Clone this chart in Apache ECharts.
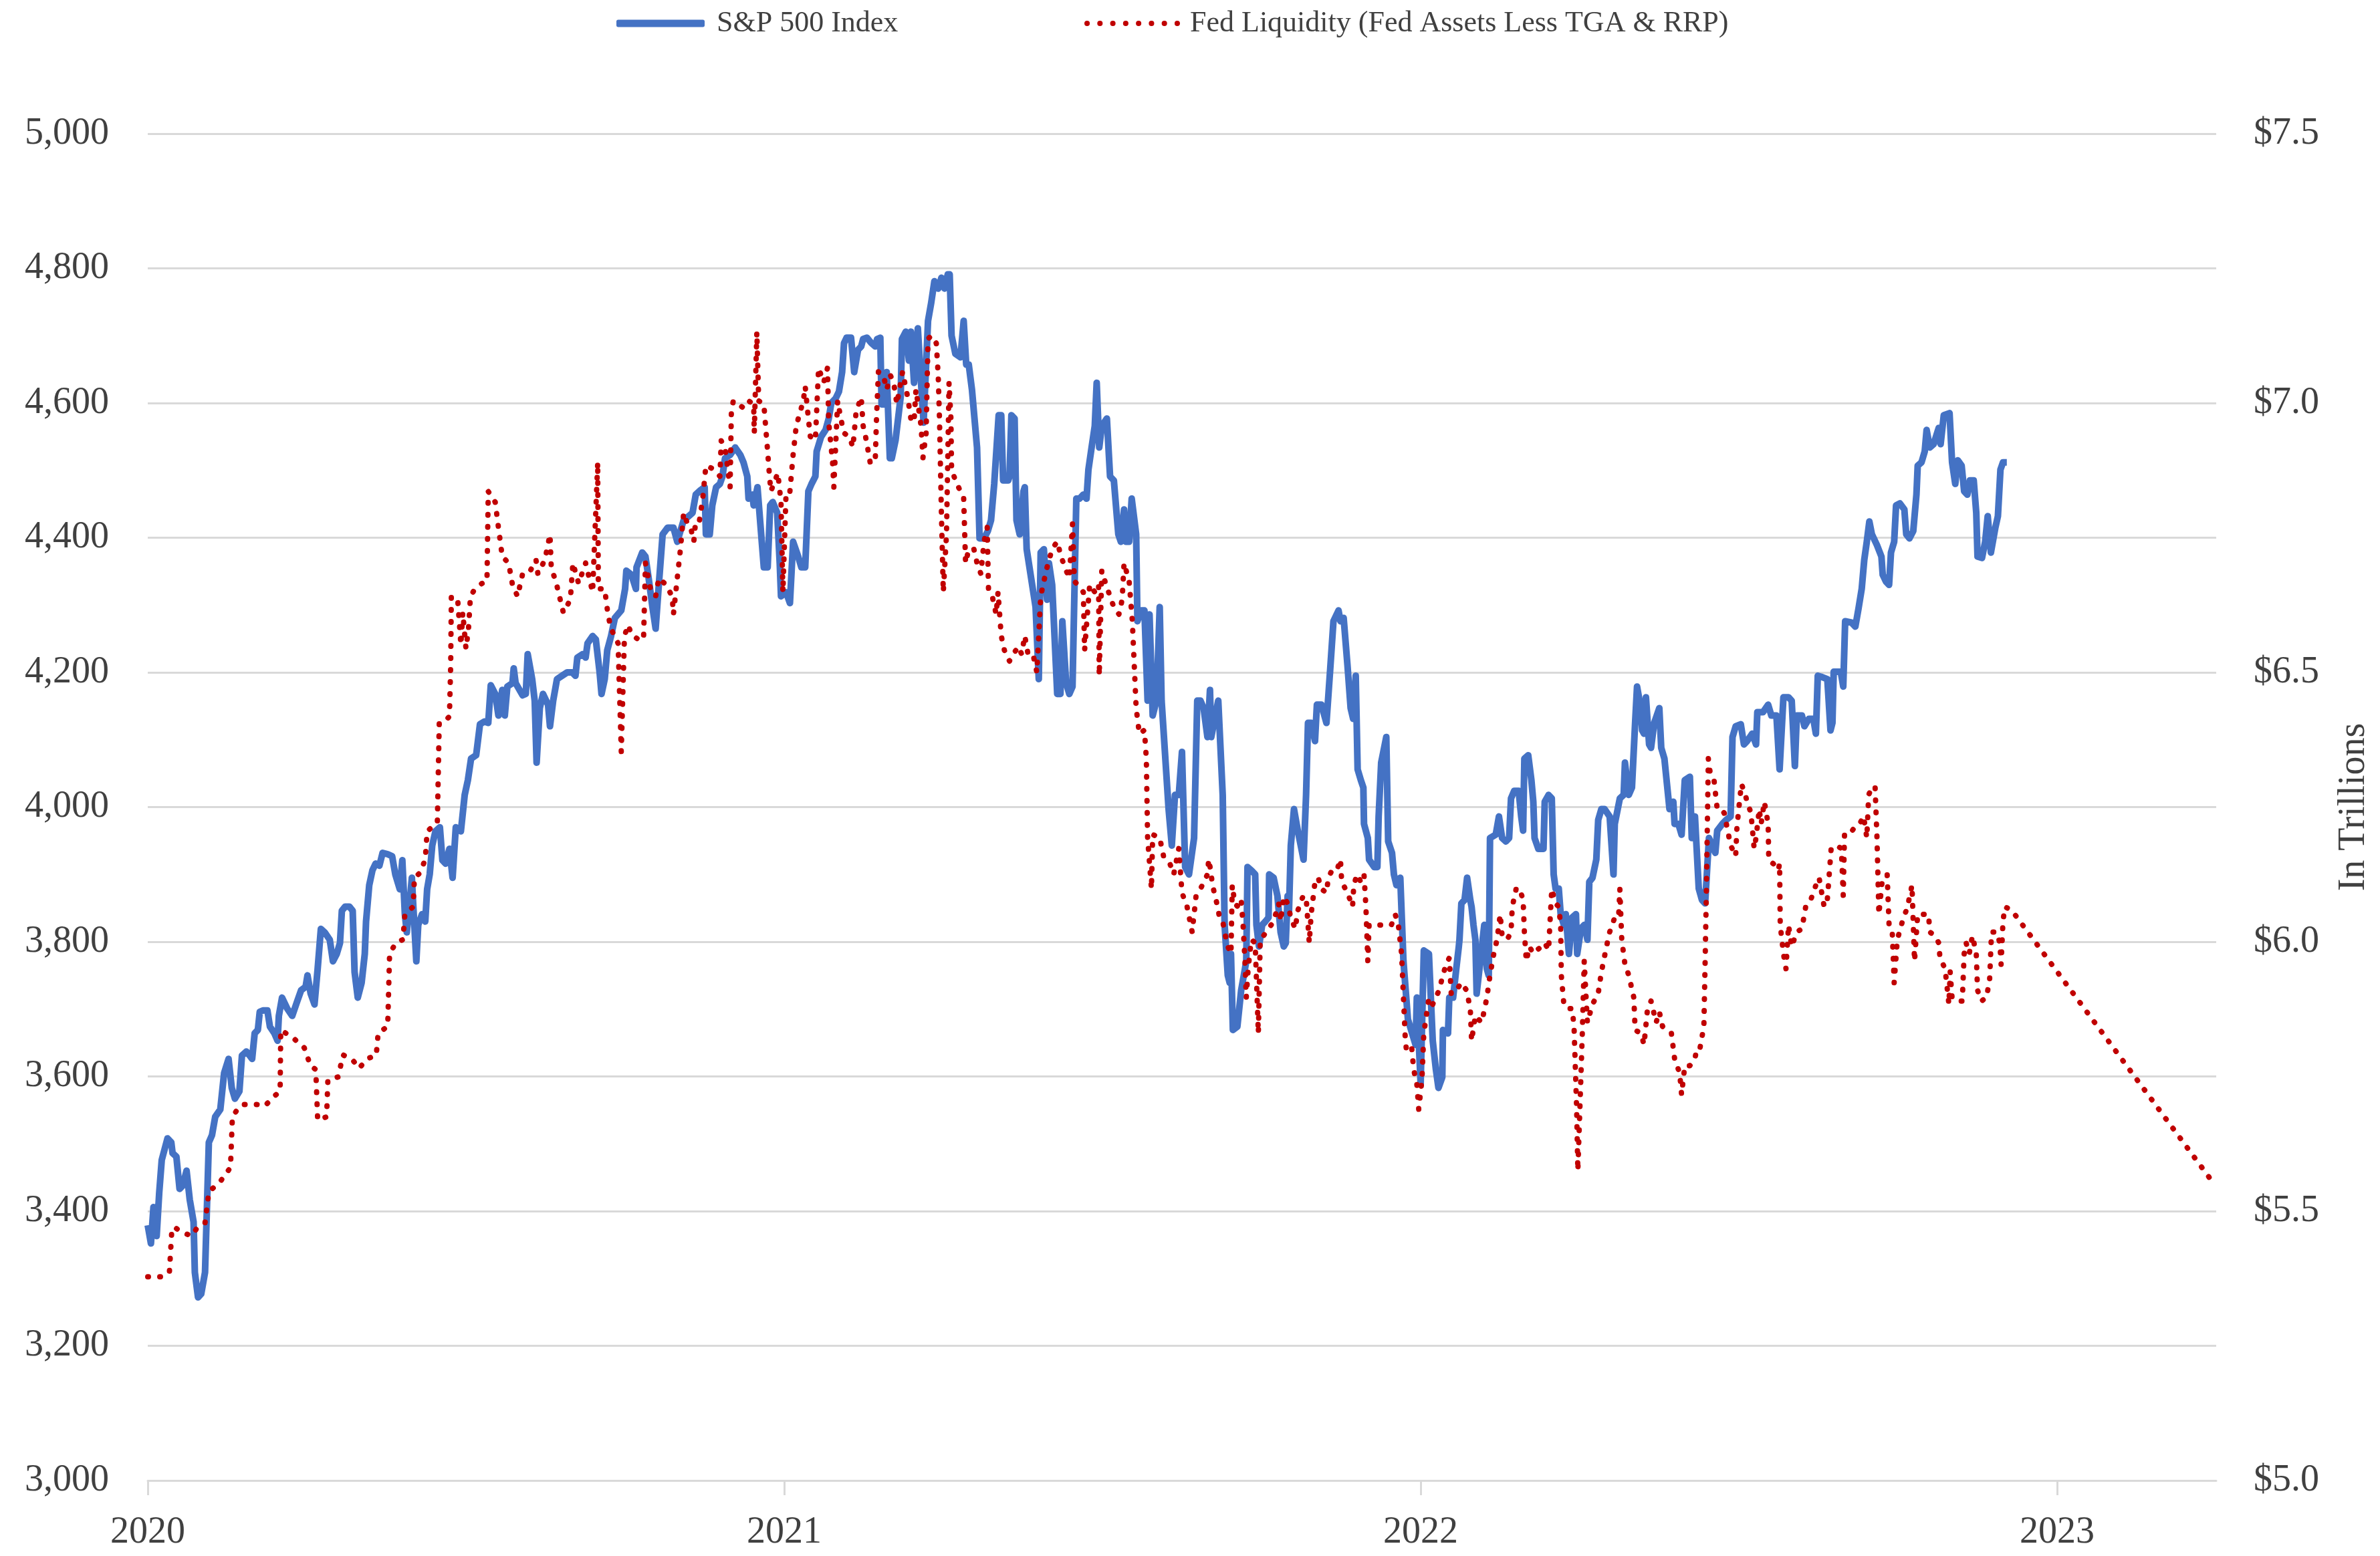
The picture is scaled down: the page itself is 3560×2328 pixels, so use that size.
<!DOCTYPE html>
<html>
<head>
<meta charset="utf-8">
<title>S&amp;P 500 vs Fed Liquidity</title>
<script src="https://cdn.jsdelivr.net/npm/echarts@6.0.0/dist/echarts.min.js"></script>
<style>
  html, body { margin: 0; padding: 0; background: #fff; }
  #chart { width: 3560px; height: 2328px; }
</style>
</head>
<body>
<div id="chart"></div>
<script>
// x values are fractional years (2020.5 = mid 2020)
const yearTicks = [2020, 2021, 2022, 2023];

// S&P 500 Index level
const spxPoints = [
  [2020.000,3379],[2020.005,3352],[2020.009,3406],[2020.014,3363],[2020.018,3427],[2020.022,3476],[2020.031,3508],[2020.037,3502],[2020.039,3486],[2020.045,3481],
  [2020.050,3433],[2020.055,3438],[2020.061,3460],[2020.066,3417],[2020.072,3384],[2020.074,3309],[2020.079,3272],[2020.084,3277],[2020.090,3309],[2020.096,3502],
  [2020.101,3513],[2020.106,3540],[2020.114,3551],[2020.120,3605],[2020.127,3626],[2020.132,3583],[2020.137,3567],[2020.144,3578],[2020.148,3631],[2020.155,3637],
  [2020.160,3631],[2020.164,3626],[2020.168,3664],[2020.173,3669],[2020.176,3696],[2020.181,3698],[2020.188,3698],[2020.192,3674],[2020.199,3664],[2020.204,3653],
  [2020.206,3690],[2020.211,3717],[2020.219,3701],[2020.227,3690],[2020.235,3712],[2020.241,3728],[2020.248,3733],[2020.251,3750],[2020.256,3723],[2020.262,3707],
  [2020.267,3760],[2020.272,3819],[2020.278,3814],[2020.286,3803],[2020.291,3771],[2020.297,3782],[2020.302,3798],[2020.305,3846],[2020.310,3852],[2020.317,3852],
  [2020.322,3846],[2020.325,3755],[2020.330,3717],[2020.336,3739],[2020.341,3782],[2020.343,3830],[2020.348,3884],[2020.353,3906],[2020.358,3916],[2020.364,3913],
  [2020.369,3932],[2020.377,3930],[2020.384,3927],[2020.389,3900],[2020.396,3878],[2020.400,3921],[2020.404,3841],[2020.407,3814],[2020.411,3852],[2020.415,3895],
  [2020.417,3857],[2020.422,3771],[2020.425,3825],[2020.431,3841],[2020.436,3830],[2020.439,3878],[2020.443,3900],[2020.447,3943],[2020.452,3964],[2020.459,3970],
  [2020.463,3921],[2020.468,3916],[2020.474,3938],[2020.479,3895],[2020.484,3970],[2020.492,3964],[2020.498,4018],[2020.503,4040],[2020.508,4072],[2020.516,4077],
  [2020.522,4123],[2020.529,4127],[2020.535,4125],[2020.539,4181],[2020.546,4168],[2020.551,4136],[2020.557,4174],[2020.561,4136],[2020.565,4179],[2020.573,4184],
  [2020.575,4206],[2020.578,4184],[2020.589,4166],[2020.594,4168],[2020.597,4227],[2020.604,4190],[2020.608,4158],[2020.611,4066],[2020.616,4147],[2020.621,4168],
  [2020.629,4152],[2020.632,4120],[2020.637,4158],[2020.643,4190],[2020.651,4195],[2020.659,4200],[2020.667,4200],[2020.672,4195],[2020.675,4222],[2020.683,4227],
  [2020.688,4222],[2020.691,4243],[2020.699,4254],[2020.704,4249],[2020.710,4200],[2020.713,4168],[2020.718,4190],[2020.722,4233],[2020.728,4254],[2020.734,4281],
  [2020.744,4292],[2020.750,4324],[2020.752,4351],[2020.760,4345],[2020.767,4324],[2020.768,4356],[2020.777,4378],[2020.782,4372],[2020.787,4340],[2020.793,4297],
  [2020.798,4265],[2020.803,4330],[2020.809,4405],[2020.817,4415],
  [2020.826,4415],[2020.832,4394],[2020.837,4410],[2020.842,4426],[2020.850,4432],[2020.856,4437],[2020.861,4464],[2020.869,4471],[2020.875,4475],[2020.877,4405],
  [2020.883,4405],[2020.887,4448],[2020.893,4475],[2020.899,4480],[2020.903,4491],[2020.907,4518],[2020.915,4523],[2020.923,4534],[2020.931,4523],[2020.936,4512],
  [2020.942,4491],[2020.944,4458],[2020.950,4464],[2020.952,4448],[2020.958,4475],[2020.963,4415],[2020.968,4356],[2020.974,4356],[2020.978,4448],[2020.982,4453],
  [2020.989,4437],[2020.993,4362],[2020.995,4313],[2021.003,4319],[2021.009,4303],[2021.014,4394],[2021.022,4372],[2021.027,4356],[2021.033,4356],[2021.038,4469],
  [2021.043,4480],[2021.049,4491],[2021.051,4528],[2021.058,4550],[2021.065,4560],[2021.070,4577],[2021.074,4600],[2021.081,4607],[2021.086,4617],[2021.091,4646],
  [2021.094,4689],[2021.098,4697],[2021.105,4697],[2021.110,4646],[2021.116,4679],[2021.121,4684],[2021.124,4695],[2021.130,4697],[2021.137,4689],[2021.143,4684],
  [2021.146,4695],[2021.151,4697],[2021.153,4598],[2021.156,4598],[2021.161,4646],[2021.166,4518],[2021.169,4518],[2021.175,4545],[2021.183,4609],[2021.185,4695],
  [2021.191,4706],[2021.196,4663],[2021.199,4706],[2021.204,4630],[2021.210,4711],[2021.215,4630],[2021.219,4571],[2021.226,4722],[2021.231,4749],[2021.236,4781],
  [2021.242,4770],[2021.247,4786],[2021.252,4770],[2021.257,4791],[2021.260,4791],[2021.263,4700],[2021.269,4673],[2021.277,4668],[2021.282,4722],[2021.286,4657],
  [2021.290,4657],[2021.295,4620],[2021.303,4534],[2021.307,4399],[2021.314,4399],[2021.320,4410],[2021.325,4426],[2021.330,4480],[2021.337,4582],[2021.341,4582],
  [2021.344,4485],[2021.352,4485],[2021.354,4491],[2021.357,4582],[2021.362,4577],[2021.365,4426],[2021.370,4405],[2021.376,4469],[2021.378,4475],[2021.381,4383],
  [2021.388,4340],[2021.395,4297],[2021.400,4190],[2021.403,4378],[2021.408,4383],[2021.413,4308],[2021.416,4362],[2021.421,4330],[2021.429,4168],[2021.434,4168],
  [2021.437,4276],[2021.443,4184],[2021.448,4168],[2021.453,4179],[2021.459,4458],[2021.464,4458],[2021.470,4464],[2021.475,4458],[2021.478,4501],[2021.483,4534],
  [2021.488,4566],[2021.491,4630],[2021.495,4534],[2021.499,4566],[2021.507,4577],[2021.512,4491],[2021.518,4485],[2021.525,4405],[2021.529,4394],[2021.534,4442],
  [2021.537,4394],[2021.542,4394],[2021.546,4458],[2021.553,4405],[2021.555,4276],[2021.561,4292],[2021.566,4292],[2021.571,4158],[2021.574,4286],[2021.579,4136],
  [2021.585,4158],[2021.590,4297],[2021.593,4158],[2021.604,3997],[2021.609,3943],[2021.614,4018],[2021.620,4018],[2021.625,4082],[2021.630,3911],[2021.636,3900],
  [2021.644,3954],[2021.649,4158],
  [2021.654,4158],[2021.659,4147],[2021.665,4104],[2021.669,4174],[2021.671,4104],[2021.682,4158],[2021.689,4018],[2021.692,3825],[2021.697,3750],[2021.700,3739],
  [2021.702,3782],[2021.705,3669],[2021.712,3674],[2021.718,3728],[2021.724,3760],[2021.726,3771],[2021.728,3911],[2021.734,3906],[2021.740,3900],[2021.742,3825],
  [2021.746,3793],[2021.751,3825],[2021.756,3830],[2021.761,3836],[2021.762,3900],[2021.769,3895],[2021.775,3868],[2021.780,3814],[2021.785,3793],[2021.788,3798],
  [2021.791,3868],[2021.793,3841],[2021.796,3943],[2021.801,3997],[2021.807,3965],[2021.809,3965],[2021.816,3922],[2021.820,4018],[2021.823,4125],[2021.828,4125],
  [2021.834,4098],[2021.837,4152],[2021.844,4152],[2021.852,4125],[2021.858,4206],[2021.863,4276],[2021.871,4292],[2021.874,4276],[2021.879,4281],[2021.885,4211],
  [2021.890,4147],[2021.894,4131],[2021.898,4195],[2021.901,4056],[2021.906,4040],[2021.910,4029],[2021.911,3975],[2021.917,3954],[2021.919,3922],[2021.927,3911],
  [2021.932,3911],[2021.934,3986],[2021.938,4066],[2021.946,4104],[2021.949,3949],[2021.955,3932],[2021.958,3900],[2021.962,3884],[2021.968,3895],[2021.973,3771],
  [2021.980,3685],[2021.985,3669],[2021.992,3647],[2021.994,3717],[2022.000,3589],[2022.005,3787],[2022.013,3782],[2022.019,3653],[2022.024,3610],[2022.028,3583],
  [2022.034,3599],[2022.035,3669],[2022.043,3664],[2022.045,3717],[2022.051,3717],[2022.056,3760],[2022.060,3793],[2022.061,3803],[2022.064,3857],[2022.069,3862],
  [2022.073,3895],[2022.078,3862],[2022.080,3852],[2022.083,3825],[2022.086,3803],[2022.088,3723],[2022.095,3782],[2022.100,3825],[2022.104,3760],[2022.107,3750],
  [2022.109,3954],[2022.118,3959],[2022.123,3986],[2022.128,3954],[2022.134,3949],[2022.139,3954],[2022.142,4013],[2022.147,4024],[2022.154,4024],[2022.158,3986],
  [2022.161,3965],[2022.163,4072],[2022.169,4077],[2022.174,4040],[2022.177,4008],[2022.179,3954],[2022.185,3938],[2022.193,3938],[2022.195,4008],[2022.201,4018],
  [2022.206,4013],[2022.209,3900],[2022.212,3879],[2022.217,3879],[2022.220,3841],[2022.225,3825],[2022.228,3841],[2022.233,3782],[2022.238,3836],[2022.244,3841],
  [2022.246,3782],[2022.252,3820],[2022.257,3825],[2022.260,3814],[2022.262,3803],[2022.265,3889],[2022.270,3895],[2022.276,3922],[2022.279,3981],[2022.284,3997],
  [2022.289,3997],[2022.297,3986],[2022.303,3900],[2022.305,3975],[2022.313,4013],[2022.319,4018],[2022.321,4066],[2022.327,4018],[2022.332,4029],[2022.337,4125],
  [2022.340,4179],[2022.346,4147],[2022.348,4114],[2022.351,4109],[2022.354,4163],[2022.359,4093],[2022.362,4088],[2022.367,4125],[2022.375,4147],[2022.378,4088],
  [2022.383,4072],[2022.391,3997],[2022.397,4008],[2022.399,3975],[2022.405,3975],[2022.410,3959],[2022.415,4040],[2022.423,4045],[2022.426,3954],[2022.431,3986],
  [2022.437,3879],[2022.442,3862],[2022.447,3857],[2022.453,3954],[2022.458,3943],[2022.463,3932],[2022.466,3965],[2022.474,3975],[2022.480,3981],
  [2022.487,3986],[2022.490,4104],[2022.495,4120],[2022.503,4123],[2022.508,4093],[2022.513,4098],[2022.521,4109],[2022.527,4093],[2022.529,4141],[2022.538,4141],
  [2022.546,4152],[2022.551,4136],[2022.559,4136],[2022.564,4056],[2022.570,4163],[2022.578,4163],[2022.583,4158],[2022.588,4061],[2022.591,4136],[2022.599,4136],
  [2022.603,4120],[2022.610,4131],[2022.617,4131],[2022.621,4109],[2022.624,4195],[2022.631,4193],[2022.639,4190],[2022.644,4114],[2022.647,4125],[2022.649,4201],
  [2022.660,4201],[2022.664,4179],[2022.667,4276],[2022.677,4274],[2022.683,4268],[2022.688,4295],[2022.693,4324],[2022.697,4367],[2022.701,4394],[2022.705,4424],
  [2022.709,4405],[2022.717,4389],[2022.724,4372],[2022.726,4345],[2022.731,4335],[2022.736,4330],[2022.739,4378],[2022.744,4394],[2022.747,4448],[2022.753,4451],
  [2022.760,4442],[2022.763,4405],[2022.768,4399],[2022.774,4410],[2022.779,4464],[2022.781,4507],[2022.787,4512],[2022.792,4528],[2022.795,4560],[2022.800,4534],
  [2022.806,4539],[2022.814,4563],[2022.817,4539],[2022.822,4582],[2022.831,4585],[2022.835,4512],[2022.840,4480],[2022.844,4515],[2022.850,4507],[2022.854,4469],
  [2022.859,4464],[2022.863,4485],[2022.869,4485],[2022.873,4437],[2022.875,4372],[2022.882,4370],[2022.887,4394],[2022.891,4432],[2022.896,4378],[2022.898,4378],
  [2022.903,4415],[2022.907,4432],[2022.911,4501],[2022.915,4512],[2022.921,4512]
];

// Fed liquidity, $ trillions
const liquidityPoints = [
  [2020.000,5.378],[2020.021,5.378],[2020.034,5.386],[2020.038,5.468],[2020.042,5.470],[2020.055,5.460],[2020.069,5.454],[2020.077,5.468],[2020.090,5.478],[2020.096,5.535],
  [2020.101,5.541],[2020.114,5.555],[2020.130,5.581],[2020.133,5.675],[2020.141,5.689],[2020.149,5.698],[2020.171,5.698],[2020.184,5.695],[2020.195,5.709],[2020.208,5.723],
  [2020.209,5.836],[2020.227,5.823],[2020.246,5.803],[2020.256,5.769],[2020.264,5.763],[2020.267,5.669],[2020.281,5.675],[2020.283,5.743],[2020.299,5.749],[2020.307,5.790],
  [2020.323,5.779],[2020.332,5.765],[2020.345,5.783],[2020.359,5.789],[2020.362,5.830],[2020.377,5.843],[2020.380,5.978],[2020.390,5.998],[2020.401,6.004],[2020.404,6.051],
  [2020.417,6.065],[2020.419,6.119],[2020.428,6.128],[2020.436,6.153],[2020.439,6.205],[2020.447,6.213],[2020.455,6.221],[2020.458,6.406],[2020.466,6.409],[2020.474,6.418],
  [2020.476,6.514],[2020.477,6.641],[2020.487,6.635],[2020.492,6.551],[2020.495,6.611],[2020.500,6.544],[2020.504,6.581],[2020.507,6.641],[2020.514,6.655],[2020.525,6.665],
  [2020.533,6.669],[2020.535,6.836],[2020.546,6.816],[2020.551,6.769],[2020.557,6.715],[2020.567,6.703],[2020.573,6.663],[2020.581,6.641],[2020.589,6.683],[2020.600,6.686],
  [2020.610,6.709],[2020.613,6.683],[2020.624,6.709],[2020.632,6.756],[2020.634,6.695],[2020.642,6.665],[2020.653,6.611],[2020.664,6.635],[2020.668,6.703],[2020.677,6.665],
  [2020.688,6.703],[2020.699,6.649],[2020.707,6.890],[2020.708,6.655],[2020.718,6.655],[2020.723,6.608],[2020.728,6.581],[2020.739,6.554],[2020.744,6.353],[2020.749,6.568],
  [2020.755,6.588],[2020.760,6.570],[2020.771,6.561],[2020.779,6.561],[2020.782,6.703],[2020.790,6.655],[2020.798,6.641],[2020.803,6.675],[2020.814,6.663],
  [2020.824,6.641],[2020.826,6.608],[2020.832,6.675],[2020.837,6.729],[2020.842,6.796],[2020.848,6.776],[2020.853,6.769],[2020.858,6.743],[2020.861,6.783],[2020.867,6.783],
  [2020.872,6.823],[2020.877,6.884],[2020.888,6.878],[2020.899,6.864],[2020.901,6.930],[2020.907,6.918],[2020.915,6.844],[2020.917,6.984],[2020.920,7.004],[2020.936,6.991],
  [2020.944,7.004],[2020.952,6.998],[2020.953,6.944],[2020.957,7.132],[2020.960,7.004],[2020.968,6.998],[2020.974,6.910],[2020.976,6.878],[2020.979,6.836],[2020.990,6.870],
  [2020.995,6.816],[2020.998,6.649],[2021.003,6.836],[2021.009,6.836],[2021.014,6.904],[2021.019,6.958],[2021.030,7.004],[2021.033,7.031],[2021.038,6.971],[2021.041,6.938],
  [2021.049,6.931],[2021.054,7.065],[2021.062,7.038],[2021.068,7.065],[2021.070,6.964],[2021.076,6.890],[2021.078,6.844],[2021.084,7.004],[2021.089,6.971],[2021.094,6.944],
  [2021.102,6.938],[2021.108,6.918],[2021.113,6.984],[2021.121,7.011],[2021.124,6.958],[2021.129,6.931],[2021.135,6.890],[2021.143,6.890],[2021.145,6.971],[2021.148,7.058],
  [2021.156,7.051],[2021.161,7.025],[2021.167,7.051],[2021.172,7.038],[2021.177,6.998],[2021.186,7.058],[2021.194,7.011],[2021.199,6.971],[2021.204,6.964],[2021.207,7.025],
  [2021.215,6.958],[2021.218,6.898],[2021.223,6.944],[2021.226,7.119],[2021.231,7.125],[2021.239,7.111],[2021.242,7.051],[2021.244,6.971],[2021.247,6.796],[2021.250,6.649],
  [2021.255,6.756],[2021.259,7.038],[2021.262,6.971],[2021.263,6.878],[2021.269,6.856],[2021.277,6.836],[2021.282,6.823],[2021.285,6.703],[2021.290,6.729],[2021.298,6.729],
  [2021.303,6.703],[2021.309,6.683],[2021.314,6.743],[2021.319,6.769],[2021.321,6.655],[2021.327,6.641],[2021.333,6.608],[2021.336,6.649],[2021.341,6.568],[2021.346,6.541],
  [2021.354,6.521],[2021.360,6.534],[2021.368,6.548],[2021.373,6.534],[2021.378,6.568],[2021.384,6.528],[2021.392,6.528],[2021.397,6.500],[2021.403,6.641],[2021.408,6.669],
  [2021.413,6.695],[2021.421,6.729],[2021.429,6.743],[2021.435,6.715],[2021.443,6.689],[2021.448,6.675],[2021.453,6.776],[2021.456,6.669],[2021.461,6.663],[2021.470,6.649],
  [2021.472,6.541],[2021.480,6.663],[2021.488,6.649],[2021.494,6.663],[2021.495,6.494],[2021.499,6.689],[2021.504,6.669],[2021.512,6.641],[2021.518,6.621],[2021.526,6.608],
  [2021.531,6.635],[2021.534,6.703],[2021.542,6.669],[2021.547,6.595],[2021.550,6.514],[2021.553,6.434],[2021.558,6.386],[2021.566,6.393],[2021.569,6.340],[2021.571,6.193],
  [2021.577,6.098],[2021.579,6.199],[2021.590,6.193],[2021.596,6.159],[2021.606,6.145],[2021.612,6.125],[2021.620,6.173],[2021.625,6.091],[2021.633,6.065],[2021.641,6.018],
  [2021.647,6.084],
  [2021.657,6.105],[2021.665,6.125],[2021.667,6.153],[2021.670,6.133],[2021.673,6.105],[2021.681,6.065],[2021.684,6.045],[2021.689,6.038],[2021.692,6.018],[2021.697,5.991],
  [2021.702,5.978],[2021.704,6.105],[2021.708,6.071],[2021.713,6.065],[2021.718,6.078],[2021.721,6.031],[2021.724,5.964],[2021.726,5.896],[2021.729,5.950],[2021.734,6.004],
  [2021.740,5.998],[2021.745,5.830],[2021.748,6.004],[2021.753,6.011],[2021.761,6.024],[2021.769,6.038],[2021.777,6.071],[2021.780,6.038],[2021.785,6.084],[2021.791,6.071],
  [2021.796,6.045],[2021.803,6.024],[2021.807,6.058],[2021.815,6.084],[2021.820,6.084],[2021.825,5.998],[2021.828,6.051],[2021.834,6.111],[2021.839,6.119],[2021.844,6.098],
  [2021.852,6.091],[2021.855,6.119],[2021.860,6.131],[2021.868,6.131],[2021.874,6.153],[2021.876,6.111],[2021.885,6.091],[2021.893,6.065],[2021.895,6.105],[2021.900,6.125],
  [2021.906,6.111],[2021.911,6.125],[2021.914,6.065],[2021.917,5.964],[2021.919,6.031],[2021.927,6.031],[2021.938,6.031],[2021.949,6.031],[2021.954,6.031],[2021.960,6.051],
  [2021.965,6.031],[2021.970,5.978],[2021.973,5.896],[2021.976,5.816],[2021.978,5.796],[2021.986,5.803],[2021.989,5.763],[2021.994,5.736],[2021.997,5.689],[2022.002,5.743],
  [2022.005,5.830],[2022.013,5.896],[2022.019,5.884],[2022.029,5.910],[2022.035,5.938],[2022.040,5.958],[2022.045,5.970],[2022.048,5.904],[2022.051,5.910],[2022.056,5.910],
  [2022.064,5.924],[2022.072,5.910],[2022.078,5.876],[2022.080,5.816],[2022.086,5.863],[2022.091,5.856],[2022.096,5.850],[2022.104,5.896],[2022.109,5.938],[2022.115,5.978],
  [2022.120,6.004],[2022.125,6.051],[2022.128,6.011],[2022.136,6.004],[2022.142,6.018],[2022.144,6.065],[2022.150,6.098],[2022.155,6.100],[2022.161,6.078],[2022.163,6.018],
  [2022.166,5.964],[2022.171,5.991],[2022.177,5.978],[2022.182,5.984],[2022.190,5.991],[2022.195,5.998],[2022.201,5.984],[2022.203,6.031],[2022.206,6.098],[2022.212,6.071],
  [2022.217,6.065],[2022.220,6.031],[2022.221,5.938],[2022.225,5.884],[2022.230,5.876],[2022.238,5.876],[2022.241,5.843],[2022.245,5.695],[2022.247,5.575],[2022.250,5.683],
  [2022.254,5.830],[2022.257,5.964],[2022.262,5.850],[2022.270,5.884],[2022.279,5.904],[2022.284,5.944],[2022.292,5.991],[2022.297,6.018],[2022.305,6.045],[2022.311,6.045],
  [2022.313,6.098],[2022.316,6.004],[2022.321,5.958],[2022.327,5.938],[2022.335,5.896],[2022.337,5.836],[2022.346,5.830],[2022.351,5.809],[2022.356,5.870],[2022.362,5.890],
  [2022.370,5.850],[2022.375,5.870],[2022.380,5.843],[2022.388,5.836],[2022.394,5.830],[2022.399,5.783],[2022.407,5.756],[2022.410,5.716],[2022.415,5.770],[2022.423,5.770],
  [2022.431,5.783],[2022.434,5.803],[2022.439,5.803],[2022.445,5.843],[2022.447,5.964],[2022.449,6.098],[2022.452,6.340],[2022.455,6.313],[2022.461,6.300],[2022.466,6.246],
  [2022.471,6.246],[2022.477,6.239],
  [2022.487,6.179],[2022.495,6.159],[2022.497,6.213],[2022.501,6.260],[2022.504,6.293],[2022.510,6.273],[2022.513,6.260],[2022.519,6.239],[2022.524,6.173],[2022.527,6.193],
  [2022.532,6.246],[2022.535,6.219],[2022.540,6.260],[2022.546,6.219],[2022.547,6.151],[2022.554,6.145],[2022.562,6.133],[2022.564,6.145],[2022.565,6.031],[2022.570,5.978],
  [2022.574,5.950],[2022.578,6.031],[2022.583,5.991],[2022.591,6.018],[2022.599,6.024],[2022.605,6.065],[2022.613,6.078],[2022.621,6.105],[2022.626,6.119],[2022.634,6.065],
  [2022.639,6.078],[2022.645,6.173],[2022.653,6.179],[2022.661,6.173],[2022.664,6.086],[2022.666,6.199],[2022.674,6.199],[2022.682,6.213],[2022.690,6.219],[2022.696,6.233],
  [2022.701,6.193],[2022.704,6.273],[2022.709,6.286],[2022.714,6.289],[2022.717,6.193],[2022.720,6.051],[2022.725,6.111],[2022.733,6.125],[2022.736,6.031],[2022.741,6.018],
  [2022.744,5.924],[2022.749,6.004],[2022.757,6.038],[2022.765,6.065],[2022.772,6.105],[2022.776,5.964],[2022.781,6.051],[2022.789,6.051],[2022.798,6.051],[2022.800,6.018],
  [2022.808,6.011],[2022.814,5.998],[2022.816,5.970],[2022.824,5.950],[2022.830,5.884],[2022.832,5.944],[2022.835,5.896],[2022.843,5.890],[2022.851,5.890],[2022.854,5.978],
  [2022.857,5.998],[2022.862,5.978],[2022.867,6.011],[2022.873,5.978],[2022.875,5.910],[2022.881,5.890],[2022.889,5.896],[2022.894,5.930],[2022.897,6.018],[2022.905,6.018],
  [2022.910,5.998],[2022.912,5.958],[2022.915,6.038],[2022.918,6.065],[2022.929,6.058],[2023.240,5.561]
];

const textColor = '#404040';
const gridColor = '#d9d9d9';
const spxColor = '#4472C4';
const liqColor = '#C00000';
const fontFamily = '"Liberation Serif", "DejaVu Serif", serif';

// eight round dots for the dotted legend key
const dotIcon = 'path://M0,4a4,4 0 1,0 8,0a4,4 0 1,0 -8,0' +
  'M19,4a4,4 0 1,0 8,0a4,4 0 1,0 -8,0M38,4a4,4 0 1,0 8,0a4,4 0 1,0 -8,0' +
  'M57,4a4,4 0 1,0 8,0a4,4 0 1,0 -8,0M76,4a4,4 0 1,0 8,0a4,4 0 1,0 -8,0' +
  'M95,4a4,4 0 1,0 8,0a4,4 0 1,0 -8,0M114,4a4,4 0 1,0 8,0a4,4 0 1,0 -8,0' +
  'M133,4a4,4 0 1,0 8,0a4,4 0 1,0 -8,0';

let chart = echarts.init(document.getElementById('chart'));

let option = {
  animation: false,
  backgroundColor: '#ffffff',
  textStyle: { fontFamily: fontFamily, color: textColor },
  legend: [
    {
      top: 8,
      left: 917,
      itemWidth: 132,
      itemHeight: 11,
      textStyle: { fontSize: 44, color: textColor, fontFamily: fontFamily, padding: [0, 0, 0, 13] },
      data: [{ name: 'S&P 500 Index', icon: 'roundRect', itemStyle: { color: spxColor, borderWidth: 0 } }]
    },
    {
      top: 8,
      left: 1617,
      itemWidth: 143,
      itemHeight: 9,
      textStyle: { fontSize: 44, color: textColor, fontFamily: fontFamily, padding: [0, 0, 0, 10] },
      data: [{ name: 'Fed Liquidity (Fed Assets Less TGA & RRP)', icon: dotIcon, itemStyle: { color: liqColor, borderWidth: 0 } }]
    }
  ],
  grid: { left: 221, right: 245, top: 200, bottom: 113, containLabel: false, outerBoundsMode: 'none' },
  xAxis: {
    type: 'value',
    min: 2020,
    max: 2023.25,
    interval: 1,
    splitLine: { show: false },
    axisLine: { show: true, onZero: false, lineStyle: { color: gridColor, width: 3 } },
    axisTick: { show: true, length: 22, customValues: yearTicks, lineStyle: { color: gridColor, width: 3 } },
    axisLabel: {
      customValues: yearTicks,
      formatter: function (v) { return String(Math.round(v)); },
      margin: 50,
      fontSize: 56,
      color: textColor,
      fontFamily: fontFamily
    }
  },
  yAxis: [
    {
      type: 'value',
      position: 'left',
      min: 3000,
      max: 5000,
      interval: 200,
      axisLine: { show: false },
      axisTick: { show: false },
      splitLine: { show: true, lineStyle: { color: gridColor, width: 3 } },
      axisLabel: {
        formatter: function (v) { return v.toLocaleString('en-US'); },
        margin: 58,
        fontSize: 56,
        color: textColor,
        fontFamily: fontFamily
      }
    },
    {
      type: 'value',
      position: 'right',
      min: 5.0,
      max: 7.5,
      interval: 0.5,
      axisLine: { show: false },
      axisTick: { show: false },
      splitLine: { show: false },
      axisLabel: {
        formatter: function (v) { return '$' + v.toFixed(1); },
        margin: 56,
        fontSize: 56,
        color: textColor,
        fontFamily: fontFamily
      },
      name: 'In Trillions',
      nameLocation: 'middle',
      nameRotate: 90,
      nameGap: 178,
      nameTextStyle: { fontSize: 56, color: textColor, fontFamily: fontFamily }
    }
  ],
  series: [
    {
      name: 'S&P 500 Index',
      type: 'line',
      yAxisIndex: 0,
      data: spxPoints,
      symbol: 'none',
      showSymbol: false,
      itemStyle: { color: spxColor },
      lineStyle: { color: spxColor, width: 10, join: 'round' }
    },
    {
      name: 'Fed Liquidity (Fed Assets Less TGA & RRP)',
      type: 'line',
      yAxisIndex: 1,
      data: liquidityPoints,
      symbol: 'none',
      showSymbol: false,
      itemStyle: { color: liqColor },
      lineStyle: { color: liqColor, width: 8, type: [1, 17], cap: 'round', join: 'round' }
    }
  ]
};

chart.setOption(option);
</script>
</body>
</html>
